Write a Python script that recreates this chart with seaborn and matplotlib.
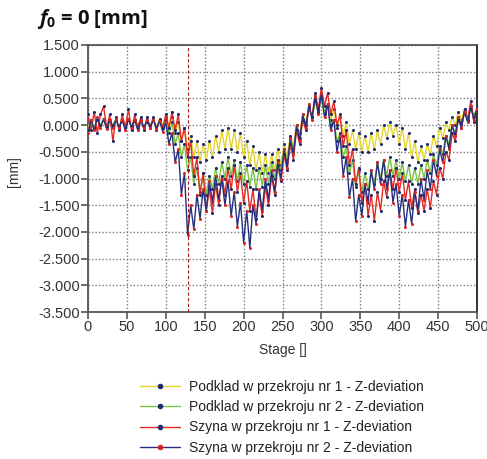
import numpy as np
import pandas as pd
import matplotlib
matplotlib.use("Agg")
import matplotlib.pyplot as plt
import seaborn as sns

# ---------------- data ----------------
stages = list(range(0, 501, 4))

podklad1 = [
    -0.05, 0.10, -0.05, 0.10, 0.00, 0.12, -0.02, 0.10, 0.00, 0.10,
    -0.02, 0.10, 0.00, 0.12, -0.02, 0.10, 0.00, 0.10, -0.02, 0.08,
    0.00, 0.10, -0.02, 0.12, 0.00, 0.15, -0.05, 0.15, -0.15, 0.05,
    -0.30, -0.05, -0.45, -0.20, -0.60, -0.30, -0.70, -0.35, -0.65, -0.30,
    -0.60, -0.20, -0.50, -0.10, -0.45, -0.05, -0.45, -0.10, -0.50, -0.15,
    -0.60, -0.30, -0.75, -0.40, -0.85, -0.50, -0.90, -0.55, -0.90, -0.55,
    -0.85, -0.45, -0.75, -0.35, -0.60, -0.20, -0.40, 0.00, -0.15, 0.20,
    0.05, 0.35, 0.15, 0.45, 0.25, 0.50, 0.25, 0.40, 0.10, 0.30,
    -0.05, 0.15, -0.20, 0.05, -0.35, -0.10, -0.45, -0.15, -0.50, -0.20,
    -0.50, -0.15, -0.45, -0.10, -0.35, 0.00, -0.25, 0.05, -0.20, 0.00,
    -0.35, -0.05, -0.45, -0.15, -0.60, -0.30, -0.70, -0.40, -0.65, -0.35,
    -0.55, -0.20, -0.40, -0.05, -0.25, 0.05, -0.10, 0.15, 0.00, 0.25,
    0.10, 0.30, 0.15, 0.35, 0.20, 0.30,
]

podklad2 = [
    -0.10, 0.10, -0.05, 0.10, 0.00, 0.10, -0.05, 0.08, 0.00, 0.10,
    -0.05, 0.08, 0.00, 0.10, -0.05, 0.08, 0.00, 0.10, -0.05, 0.05,
    0.00, 0.10, -0.05, 0.08, -0.05, 0.10, -0.15, 0.05, -0.35, -0.15,
    -0.60, -0.35, -0.85, -0.60, -1.10, -0.80, -1.25, -0.90, -1.30, -0.95,
    -1.20, -0.80, -1.10, -0.70, -1.00, -0.60, -0.95, -0.65, -1.05, -0.70,
    -1.10, -0.75, -1.15, -0.80, -1.20, -0.80, -1.15, -0.75, -1.10, -0.70,
    -1.00, -0.65, -0.85, -0.45, -0.65, -0.25, -0.45, -0.10, -0.25, 0.10,
    0.00, 0.30, 0.15, 0.45, 0.25, 0.50, 0.20, 0.35, 0.00, 0.10,
    -0.30, -0.15, -0.60, -0.40, -0.90, -0.65, -1.15, -0.85, -1.25, -0.90,
    -1.20, -0.85, -1.10, -0.70, -1.00, -0.65, -0.95, -0.60, -0.95, -0.65,
    -1.00, -0.70, -1.05, -0.75, -1.10, -0.80, -1.10, -0.75, -1.00, -0.65,
    -0.90, -0.55, -0.75, -0.40, -0.55, -0.20, -0.35, 0.00, -0.15, 0.15,
    0.05, 0.25, 0.10, 0.30, 0.15, 0.30,
]

szyna1 = [
    0.20, -0.10, 0.25, -0.15, 0.20, 0.35, -0.05, 0.20, -0.30, 0.15,
    -0.10, 0.20, -0.05, 0.30, -0.10, 0.20, -0.05, 0.15, -0.10, 0.15,
    -0.05, 0.15, -0.10, 0.10, -0.05, 0.20, -0.05, 0.25, -0.10, 0.20,
    -0.30, -0.05, -0.60, -0.30, -0.95, -0.60, -1.30, -0.90, -1.60, -1.20,
    -1.65, -1.10, -1.50, -0.95, -1.30, -0.80, -1.20, -0.75, -1.25, -0.90,
    -1.45, -1.05, -1.60, -1.20, -1.75, -1.30, -1.70, -1.15, -1.50, -0.95,
    -1.30, -0.75, -1.05, -0.55, -0.85, -0.35, -0.65, -0.10, -0.35, 0.10,
    -0.10, 0.35, 0.15, 0.60, 0.30, 0.70, 0.35, 0.60, 0.20, 0.45,
    0.00, 0.20, -0.40, -0.10, -0.75, -0.45, -1.10, -0.80, -1.45, -1.10,
    -1.70, -1.30, -1.80, -1.25, -1.60, -1.05, -1.35, -0.85, -1.20, -0.80,
    -1.25, -0.90, -1.40, -1.05, -1.55, -1.20, -1.65, -1.30, -1.60, -1.20,
    -1.55, -1.05, -1.30, -0.80, -1.00, -0.50, -0.65, -0.15, -0.30, 0.10,
    -0.05, 0.30, 0.10, 0.45, 0.05, 0.35,
]

szyna2 = [
    -0.15, 0.10, -0.10, 0.15, -0.05, 0.12, -0.08, 0.10, -0.05, 0.12,
    -0.05, 0.10, -0.10, 0.12, -0.05, 0.10, -0.10, 0.08, -0.05, 0.10,
    -0.05, 0.10, -0.08, 0.08, -0.12, 0.05, -0.35, -0.15, -0.70, -0.45,
    -1.30, -0.90, -2.05, -1.50, -1.95, -1.30, -1.75, -1.20, -1.60, -1.05,
    -1.45, -0.95, -1.40, -1.00, -1.50, -1.05, -1.70, -1.25, -1.90, -1.45,
    -2.20, -1.60, -2.30, -1.50, -1.85, -1.20, -1.60, -1.00, -1.40, -0.85,
    -1.25, -0.70, -1.00, -0.45, -0.80, -0.25, -0.55, 0.00, -0.30, 0.20,
    -0.05, 0.40, 0.10, 0.55, 0.20, 0.60, 0.15, 0.40, -0.10, 0.10,
    -0.50, -0.20, -0.95, -0.60, -1.35, -1.00, -1.80, -1.30, -1.70, -1.10,
    -1.45, -0.85, -1.20, -0.70, -1.10, -0.65, -1.20, -0.85, -1.45, -1.10,
    -1.70, -1.30, -1.90, -1.40, -1.85, -1.25, -1.60, -1.00, -1.40, -0.85,
    -1.20, -0.65, -0.95, -0.45, -0.70, -0.20, -0.45, 0.00, -0.20, 0.15,
    -0.05, 0.25, 0.05, 0.35, 0.10, 0.30,
]

labels = [
    "Podklad w przekroju nr 1 - Z-deviation",
    "Podklad w przekroju nr 2 - Z-deviation",
    "Szyna w przekroju nr 1 - Z-deviation",
    "Szyna w przekroju nr 2 - Z-deviation",
]
series = [podklad1, podklad2, szyna1, szyna2]
line_colors = ["#e6d52c", "#7cc242", "#e42a24", "#262f7d"]
marker_colors = ["#1f2a6e", "#1f2a6e", "#1f2a6e", "#d8261f"]
yticks = [1.5, 1.0, 0.5, 0.0, -0.5, -1.0, -1.5, -2.0, -2.5, -3.0, -3.5]
xticks = [0, 50, 100, 150, 200, 250, 300, 350, 400, 450, 500]
marker_stage = 128

df = pd.concat(
    [pd.DataFrame({"Stage": stages, "value": s, "series": lab}) for s, lab in zip(series, labels)],
    ignore_index=True,
)

# ---------------- style ----------------
sns.set_style("white")
plt.rcParams["font.family"] = ["Liberation Sans", "DejaVu Sans"]
plt.rcParams["mathtext.fontset"] = "custom"
plt.rcParams["mathtext.bf"] = "Open Sans:bold"
plt.rcParams["mathtext.it"] = "Open Sans:italic:bold"
plt.rcParams["mathtext.rm"] = "Open Sans:bold"

fig = plt.figure(figsize=(4.87, 4.59), dpi=100)
ax = fig.add_axes([88 / 487, 1 - 312 / 459, (477 - 88) / 487, (312 - 45) / 459])

draw_order = [0, 1, 3, 2]
for i in draw_order:
    sub = df[df["series"] == labels[i]]
    sns.lineplot(
        data=sub, x="Stage", y="value", ax=ax, color=line_colors[i], lw=1.0,
        marker="o", markersize=2.2, markerfacecolor=marker_colors[i],
        markeredgecolor=marker_colors[i], markeredgewidth=0, label=labels[i],
        zorder=3 + i, estimator=None, sort=False,
    )
if ax.get_legend() is not None:
    ax.get_legend().remove()

ax.axvline(marker_stage, color="#a3201a", lw=0.8, ls=(0, (3, 2)), zorder=10)

ax.set_xlim(0, 500)
ax.set_ylim(-3.5, 1.5)
ax.set_xticks(xticks)
ax.set_yticks(yticks)
ax.set_yticklabels([f"{v:.3f}" for v in yticks])
ax.grid(True, color="#7a7a7a", ls=(0, (1, 1.5)), lw=1.0)
ax.tick_params(axis="both", direction="out", length=5, width=1.2, color="#555555",
               labelsize=10.5, labelcolor="#333333", pad=1, left=True, bottom=True)
for name, sp in ax.spines.items():
    sp.set_visible(True)
    sp.set_color("#555555")
    sp.set_linewidth(1.3)
ax.spines["right"].set_color("#222222")

ax.set_xlabel("Stage []", fontsize=10, color="#333333", labelpad=6)
ax.set_ylabel("")
fig.text(14 / 487, 1 - 172 / 459, "[mm]", rotation=90, fontsize=10, color="#333333",
         ha="center", va="center")

fig.text(37 / 487, 1 - 19 / 459, r"$\mathit{f}_{\mathbf{0}}$ = 0 [mm]", fontsize=14.5,
         fontweight="bold", family="Open Sans", va="center", ha="left", color="#111111")

# legend in original order
handle_map = {l.get_label(): l for l in ax.get_lines()}
handles = [handle_map[lab] for lab in labels]
leg = fig.legend(handles, labels, loc="upper left", bbox_to_anchor=(140 / 487, 1 - 380 / 459),
                 frameon=False, fontsize=10, handlelength=2.9, handletextpad=0.6,
                 labelspacing=0.45, numpoints=1, borderaxespad=0, borderpad=0)
for t in leg.get_texts():
    t.set_color("#222222")
for h in leg.legend_handles:
    h.set_markersize(4)

fig.savefig("out.png", dpi=100)
